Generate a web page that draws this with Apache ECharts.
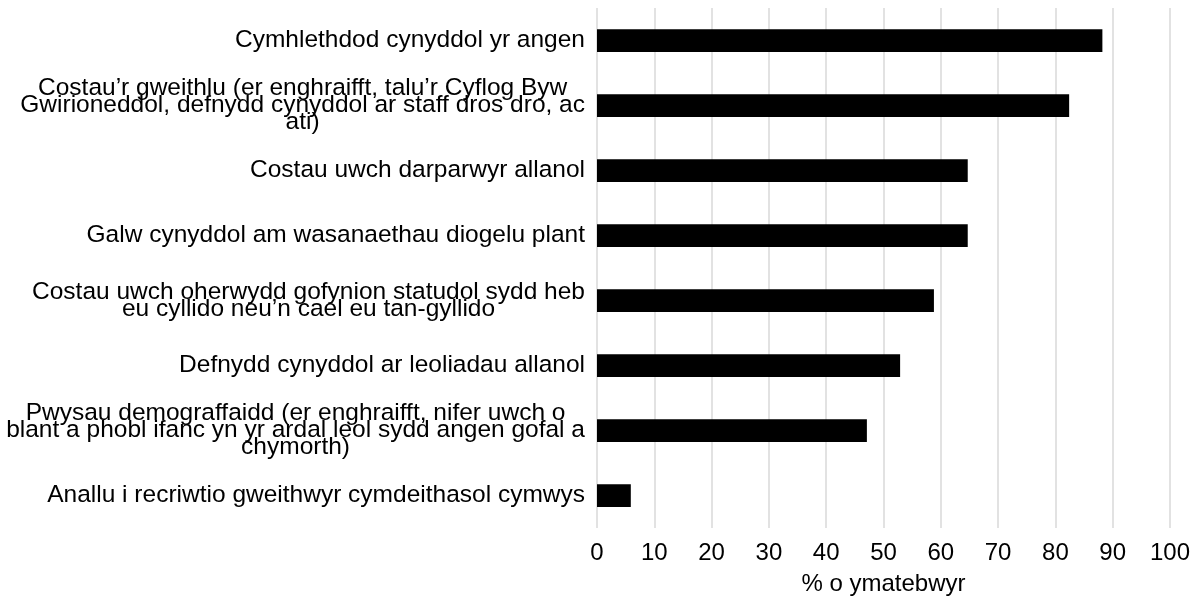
<!DOCTYPE html>
<html>
<head>
<meta charset="utf-8">
<script src="https://cdn.jsdelivr.net/npm/echarts@6/dist/echarts.min.js"></script>
<style>
html,body{margin:0;padding:0;background:#fff;}
#chart{width:1199px;height:606px;}
</style>
</head>
<body>
<div id="chart"></div>
<script>
const categories = [
  "Cymhlethdod cynyddol yr angen",
  "Costau\u2019r gweithlu (er enghraifft, talu\u2019r Cyflog Byw\nGwirioneddol, defnydd cynyddol ar staff dros dro, ac\nati)",
  "Costau uwch darparwyr allanol",
  "Galw cynyddol am wasanaethau diogelu plant",
  "Costau uwch oherwydd gofynion statudol sydd heb\neu cyllido neu\u2019n cael eu tan-gyllido",
  "Defnydd cynyddol ar leoliadau allanol",
  "Pwysau demograffaidd (er enghraifft, nifer uwch o\nblant a phobl ifanc yn yr ardal leol sydd angen gofal a\nchymorth)",
  "Anallu i recriwtio gweithwyr cymdeithasol cymwys"
];
const values = [88.2, 82.4, 64.7, 64.7, 58.8, 52.9, 47.1, 5.9];
const axisName = "% o ymatebwyr";

const FONT = 'Liberation Sans, Arial, sans-serif';
const chart = echarts.init(document.getElementById('chart'));
chart.setOption({
  animation: false,
  textStyle: { fontFamily: FONT },
  grid: { left: 597, right: 29, top: 8, bottom: 78, containLabel: false },
  xAxis: {
    type: 'value', min: 0, max: 100, interval: 10,
    axisLine: { show: false }, axisTick: { show: false },
    splitLine: { show: true, lineStyle: { color: '#d9d9d9', width: 1.5 } },
    axisLabel: { color: '#000', fontSize: 24, margin: 13, fontFamily: FONT },
    name: axisName, nameLocation: 'middle', nameGap: 44,
    nameTextStyle: { color: '#000', fontSize: 24, fontFamily: FONT }
  },
  yAxis: {
    type: 'category', inverse: true, data: categories,
    axisLine: { show: false }, axisTick: { show: false },
    axisLabel: {
      color: '#000', fontSize: 24.5, margin: 12, lineHeight: 17, align: 'right', fontFamily: FONT,
      formatter: function (v) {
        return v.split('\n').map(function (l) { return '{c|' + l + '}'; }).join('\n');
      },
      rich: { c: { align: 'center', fontSize: 24.5, lineHeight: 17, color: '#000', fontFamily: FONT } }
    }
  },
  series: [{
    type: 'bar', data: values, barWidth: '35%',
    itemStyle: { color: '#000' }
  }]
});
</script>
</body>
</html>
